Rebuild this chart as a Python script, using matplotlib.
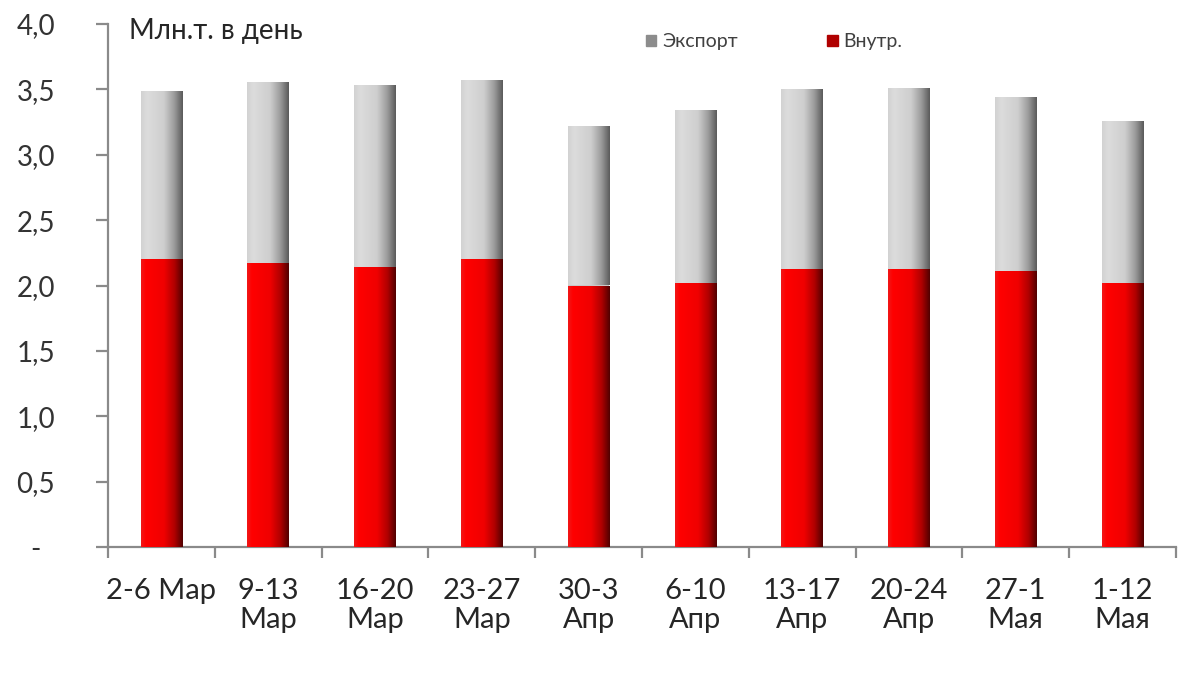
import matplotlib
matplotlib.use("Agg")
import matplotlib.pyplot as plt
import numpy as np
from matplotlib.colors import LinearSegmentedColormap
from matplotlib.patches import Rectangle

categories = ["2-6 Мар", "9-13\nМар", "16-20\nМар", "23-27\nМар", "30-3\nАпр",
              "6-10\nАпр", "13-17\nАпр", "20-24\nАпр", "27-1\nМая", "1-12\nМая"]
internal = [2.20, 2.17, 2.14, 2.20, 2.00, 2.02, 2.13, 2.13, 2.11, 2.02]
total = [3.49, 3.56, 3.53, 3.57, 3.22, 3.34, 3.50, 3.51, 3.44, 3.26]
export = [t - i for t, i in zip(total, internal)]
yticks = [0, 0.5, 1.0, 1.5, 2.0, 2.5, 3.0, 3.5, 4.0]
yticklabels = ["-  ", "0,5", "1,0", "1,5", "2,0", "2,5", "3,0", "3,5", "4,0"]

plt.rcParams['font.family'] = ['Lato', 'DejaVu Sans']
W, H = 1200, 674
fig = plt.figure(figsize=(W / 100, H / 100), dpi=100)
ax = fig.add_axes([108 / W, 1 - 547 / H, (1176 - 108) / W, (547 - 24) / H])

x = np.arange(len(categories))
bw = 0.39
red_bars = ax.bar(x, internal, bw, color="#e00000", zorder=2)
gray_bars = ax.bar(x, export, bw, bottom=internal, color="#c8c8c8", zorder=2)

red_cmap = LinearSegmentedColormap.from_list(
    "r", [(0, "#f01818"), (0.12, "#ff0000"), (0.55, "#f00000"), (0.8, "#b00000"), (1, "#500000")])
gray_cmap = LinearSegmentedColormap.from_list(
    "g", [(0, "#d2d2d2"), (0.15, "#dcdcdc"), (0.55, "#cecece"), (0.8, "#9a9a9a"), (1, "#5a5a5a")])
grad = np.linspace(0, 1, 256).reshape(1, -1)
for bars, cmap in ((red_bars, red_cmap), (gray_bars, gray_cmap)):
    for p in bars:
        x0, y0 = p.get_x(), p.get_y()
        w, h = p.get_width(), p.get_height()
        im = ax.imshow(grad, cmap=cmap, aspect="auto", extent=(x0, x0 + w, y0, y0 + h),
                       zorder=3, interpolation="bilinear")
        im.set_clip_path(p)

ax.set_xlim(-0.5, len(categories) - 0.5)
ax.set_ylim(0, 4.0)
ax.set_yticks(yticks)
ax.set_yticklabels(yticklabels)
ax.set_xticks(x)
ax.set_xticklabels(categories, linespacing=1.15)
ax.set_xticks(np.arange(-0.5, len(categories), 1.0), minor=True)

axis_col = "#8a8a8a"
for s in ("top", "right"):
    ax.spines[s].set_visible(False)
for s in ("left", "bottom"):
    ax.spines[s].set_color(axis_col)
    ax.spines[s].set_linewidth(1.6)
ax.tick_params(axis="x", which="major", length=0, pad=22, labelsize=21, labelcolor="#262626")
ax.tick_params(axis="x", which="minor", length=8, width=1.6, color=axis_col, direction="out")
ax.tick_params(axis="y", length=9, width=1.6, color=axis_col, pad=29, labelsize=20, labelcolor="#333333")

fig.text(129 / W, 1 - 31 / H, "Млн.т. в день", fontsize=20, color="#262626", va="center", ha="left")

# legend
handles = [Rectangle((0, 0), 1, 1, color="#8c8c8c"), Rectangle((0, 0), 1, 1, color="#b00000")]
leg = fig.legend(handles, ["Экспорт", "Внутр."], ncol=2, frameon=False, fontsize=14,
                 loc="center left", bbox_to_anchor=(628 / W, 1 - 42 / H),
                 handlelength=0.55, handleheight=0.55, handletextpad=0.3, columnspacing=4.6,
                 labelcolor="#404040")

fig.savefig("out.png", dpi=100, facecolor="white")
